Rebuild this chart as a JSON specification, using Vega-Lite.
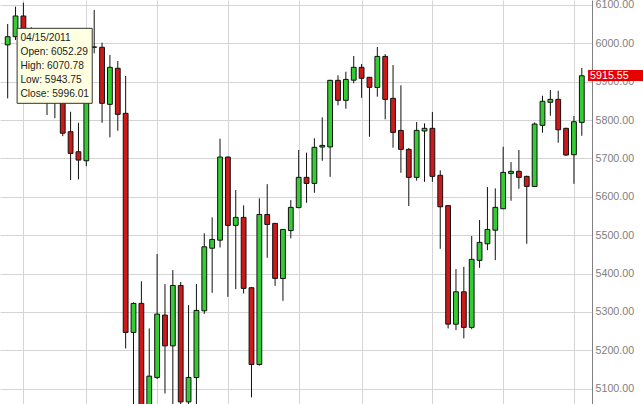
{
  "$schema": "https://vega.github.io/schema/vega-lite/v6.json",
  "width": 592,
  "height": 404,
  "autosize": {"type": "none"},
  "padding": {"left": 0, "top": 0, "right": 51, "bottom": 0},
  "background": "white",
  "config": {"view": {"stroke": null}, "font": "Liberation Sans"},
  "datasets": {
    "candles": [
      {"i": 0, "date": "2011-04-18", "open": 5996.0, "high": 6050.5, "low": 5856.7, "close": 6017.3},
      {"i": 1, "date": "2011-04-25", "open": 6017.3, "high": 6095.6, "low": 6008.7, "close": 6071.3},
      {"i": 2, "date": "2011-05-02", "open": 6071.3, "high": 6106.0, "low": 5955.0, "close": 5977.0},
      {"i": 3, "date": "2011-05-09", "open": 5977.0, "high": 6042.0, "low": 5890.0, "close": 5926.0},
      {"i": 4, "date": "2011-05-16", "open": 5926.0, "high": 5990.0, "low": 5880.0, "close": 5948.0},
      {"i": 5, "date": "2011-05-23", "open": 5948.0, "high": 5990.0, "low": 5813.0, "close": 5939.0},
      {"i": 6, "date": "2011-05-30", "open": 5939.0, "high": 5980.0, "low": 5805.0, "close": 5855.0},
      {"i": 7, "date": "2011-06-06", "open": 5855.0, "high": 5870.0, "low": 5758.0, "close": 5765.8},
      {"i": 8, "date": "2011-06-13", "open": 5769.7, "high": 5821.8, "low": 5643.7, "close": 5713.2},
      {"i": 9, "date": "2011-06-20", "open": 5717.5, "high": 5793.0, "low": 5645.5, "close": 5695.8},
      {"i": 10, "date": "2011-06-27", "open": 5694.0, "high": 5995.0, "low": 5680.0, "close": 5989.8},
      {"i": 11, "date": "2011-07-04", "open": 5989.8, "high": 6087.0, "low": 5974.0, "close": 5990.6},
      {"i": 12, "date": "2011-07-11", "open": 5989.7, "high": 6001.7, "low": 5793.1, "close": 5843.7},
      {"i": 13, "date": "2011-07-18", "open": 5841.0, "high": 5969.6, "low": 5755.0, "close": 5937.5},
      {"i": 14, "date": "2011-07-25", "open": 5935.0, "high": 5954.0, "low": 5772.2, "close": 5815.0},
      {"i": 15, "date": "2011-08-01", "open": 5817.6, "high": 5914.9, "low": 5204.8, "close": 5246.5},
      {"i": 16, "date": "2011-08-08", "open": 5246.5, "high": 5325.0, "low": 4800.0, "close": 5322.2},
      {"i": 17, "date": "2011-08-15", "open": 5322.2, "high": 5380.0, "low": 4950.0, "close": 5041.0},
      {"i": 18, "date": "2011-08-22", "open": 5041.0, "high": 5257.0, "low": 4980.0, "close": 5132.6},
      {"i": 19, "date": "2011-08-29", "open": 5129.2, "high": 5450.7, "low": 5125.0, "close": 5294.3},
      {"i": 20, "date": "2011-09-05", "open": 5291.7, "high": 5372.5, "low": 5087.5, "close": 5211.6},
      {"i": 21, "date": "2011-09-12", "open": 5211.6, "high": 5409.0, "low": 5055.0, "close": 5369.0},
      {"i": 22, "date": "2011-09-19", "open": 5369.0, "high": 5378.0, "low": 5000.0, "close": 5065.6},
      {"i": 23, "date": "2011-09-26", "open": 5065.6, "high": 5317.7, "low": 4950.0, "close": 5129.2},
      {"i": 24, "date": "2011-10-03", "open": 5129.0, "high": 5372.5, "low": 4940.0, "close": 5304.0},
      {"i": 25, "date": "2011-10-10", "open": 5303.0, "high": 5505.0, "low": 5295.0, "close": 5469.7},
      {"i": 26, "date": "2011-10-17", "open": 5466.0, "high": 5546.4, "low": 5349.8, "close": 5489.0},
      {"i": 27, "date": "2011-10-24", "open": 5487.0, "high": 5751.4, "low": 5468.0, "close": 5703.7},
      {"i": 28, "date": "2011-10-31", "open": 5703.7, "high": 5705.0, "low": 5339.4, "close": 5525.5},
      {"i": 29, "date": "2011-11-07", "open": 5525.5, "high": 5617.6, "low": 5359.5, "close": 5546.4},
      {"i": 30, "date": "2011-11-14", "open": 5546.4, "high": 5577.7, "low": 5348.0, "close": 5361.3},
      {"i": 31, "date": "2011-11-21", "open": 5363.0, "high": 5365.0, "low": 5077.0, "close": 5163.0},
      {"i": 32, "date": "2011-11-28", "open": 5163.0, "high": 5596.0, "low": 5160.0, "close": 5554.0},
      {"i": 33, "date": "2011-12-05", "open": 5554.0, "high": 5633.0, "low": 5441.0, "close": 5528.0},
      {"i": 34, "date": "2011-12-12", "open": 5530.8, "high": 5531.0, "low": 5368.0, "close": 5387.3},
      {"i": 35, "date": "2011-12-19", "open": 5387.0, "high": 5516.0, "low": 5329.0, "close": 5515.0},
      {"i": 36, "date": "2011-12-26", "open": 5512.0, "high": 5591.5, "low": 5491.7, "close": 5572.5},
      {"i": 37, "date": "2012-01-02", "open": 5572.0, "high": 5722.0, "low": 5570.0, "close": 5650.7},
      {"i": 38, "date": "2012-01-09", "open": 5650.7, "high": 5715.0, "low": 5584.5, "close": 5635.0},
      {"i": 39, "date": "2012-01-16", "open": 5635.0, "high": 5752.4, "low": 5610.6, "close": 5729.0},
      {"i": 40, "date": "2012-01-23", "open": 5729.7, "high": 5807.0, "low": 5694.0, "close": 5734.0},
      {"i": 41, "date": "2012-01-30", "open": 5730.0, "high": 5905.0, "low": 5652.0, "close": 5903.6},
      {"i": 42, "date": "2012-02-06", "open": 5903.6, "high": 5916.6, "low": 5838.5, "close": 5851.5},
      {"i": 43, "date": "2012-02-13", "open": 5851.5, "high": 5926.0, "low": 5829.6, "close": 5906.0},
      {"i": 44, "date": "2012-02-20", "open": 5904.0, "high": 5967.0, "low": 5896.0, "close": 5937.5},
      {"i": 45, "date": "2012-02-27", "open": 5937.5, "high": 5946.0, "low": 5858.0, "close": 5909.0},
      {"i": 46, "date": "2012-03-05", "open": 5911.5, "high": 5912.0, "low": 5756.6, "close": 5885.4},
      {"i": 47, "date": "2012-03-12", "open": 5885.0, "high": 5990.5, "low": 5861.0, "close": 5966.0},
      {"i": 48, "date": "2012-03-19", "open": 5966.0, "high": 5972.0, "low": 5802.0, "close": 5854.0},
      {"i": 49, "date": "2012-03-26", "open": 5856.7, "high": 5943.5, "low": 5728.0, "close": 5768.0},
      {"i": 50, "date": "2012-04-02", "open": 5773.0, "high": 5890.6, "low": 5662.7, "close": 5723.7},
      {"i": 51, "date": "2012-04-09", "open": 5723.7, "high": 5727.0, "low": 5576.0, "close": 5650.7},
      {"i": 52, "date": "2012-04-16", "open": 5650.7, "high": 5795.0, "low": 5642.0, "close": 5773.3},
      {"i": 53, "date": "2012-04-23", "open": 5771.5, "high": 5791.5, "low": 5639.0, "close": 5778.5},
      {"i": 54, "date": "2012-04-30", "open": 5778.5, "high": 5821.0, "low": 5639.0, "close": 5653.3},
      {"i": 55, "date": "2012-05-07", "open": 5656.0, "high": 5669.0, "low": 5464.5, "close": 5574.0},
      {"i": 56, "date": "2012-05-14", "open": 5577.0, "high": 5578.0, "low": 5257.0, "close": 5268.2},
      {"i": 57, "date": "2012-05-21", "open": 5268.0, "high": 5411.6, "low": 5252.5, "close": 5352.4},
      {"i": 58, "date": "2012-05-28", "open": 5352.4, "high": 5417.6, "low": 5231.0, "close": 5259.6},
      {"i": 59, "date": "2012-06-04", "open": 5259.6, "high": 5497.7, "low": 5255.0, "close": 5437.0},
      {"i": 60, "date": "2012-06-11", "open": 5434.3, "high": 5539.4, "low": 5415.0, "close": 5481.2},
      {"i": 61, "date": "2012-06-18", "open": 5477.6, "high": 5625.4, "low": 5461.0, "close": 5515.0},
      {"i": 62, "date": "2012-06-25", "open": 5513.0, "high": 5622.0, "low": 5435.0, "close": 5572.5},
      {"i": 63, "date": "2012-07-02", "open": 5569.0, "high": 5730.5, "low": 5568.0, "close": 5663.7},
      {"i": 64, "date": "2012-07-09", "open": 5661.0, "high": 5690.6, "low": 5589.7, "close": 5666.4},
      {"i": 65, "date": "2012-07-16", "open": 5666.4, "high": 5722.0, "low": 5621.0, "close": 5650.7},
      {"i": 66, "date": "2012-07-23", "open": 5653.3, "high": 5655.0, "low": 5477.6, "close": 5627.2},
      {"i": 67, "date": "2012-07-30", "open": 5627.0, "high": 5794.0, "low": 5626.0, "close": 5789.7},
      {"i": 68, "date": "2012-08-06", "open": 5786.3, "high": 5863.5, "low": 5767.0, "close": 5849.0},
      {"i": 69, "date": "2012-08-13", "open": 5846.3, "high": 5878.4, "low": 5811.3, "close": 5854.0},
      {"i": 70, "date": "2012-08-20", "open": 5854.0, "high": 5876.5, "low": 5741.0, "close": 5774.8},
      {"i": 71, "date": "2012-08-27", "open": 5778.5, "high": 5780.0, "low": 5707.0, "close": 5708.9},
      {"i": 72, "date": "2012-09-03", "open": 5709.7, "high": 5810.6, "low": 5634.0, "close": 5795.7},
      {"i": 73, "date": "2012-09-10", "open": 5794.0, "high": 5935.7, "low": 5759.2, "close": 5915.55}
    ],
    "tip": [{"date": "04/15/2011", "open": 6052.29, "high": 6070.78, "low": 5943.75, "close": 5996.01}],
    "last": [{"close": 5915.55}]
  },
  "layer": [
    {
      "data": {"name": "candles"},
      "mark": {"type": "rule", "color": "#111111", "strokeWidth": 1, "clip": true},
      "encoding": {
        "x": {
          "field": "i", "type": "quantitative",
          "scale": {"domain": [-0.34, 73.66], "nice": false, "zero": false},
          "axis": {"values": [2, 6, 10, 15, 19, 24, 28, 32, 37, 41, 45, 50, 54, 58, 63, 67, 72], "labels": false, "ticks": false, "domain": false, "title": null, "grid": true, "gridColor": "#d4d4d4", "gridWidth": 1}
        },
        "y": {
          "field": "low", "type": "quantitative",
          "scale": {"domain": [5060, 6113], "nice": false, "zero": false},
          "axis": {"orient": "right", "values": [5100, 5150, 5200, 5250, 5300, 5350, 5400, 5450, 5500, 5550, 5600, 5650, 5700, 5750, 5800, 5850, 5900, 5950, 6000, 6050, 6100], "format": ".2f", "title": null, "ticks": false, "labelPadding": 3, "domainColor": "#808080", "labelColor": "#808080", "labelFontSize": 10.7, "labelFont": "Liberation Sans", "grid": true, "gridColor": "#d4d4d4", "gridWidth": 1}
        },
        "y2": {"field": "high"}
      }
    },
    {
      "data": {"name": "candles"},
      "mark": {"type": "bar", "width": 4.8, "stroke": "#111111", "strokeWidth": 1, "clip": true},
      "encoding": {
        "x": {"field": "i", "type": "quantitative"},
        "y": {"field": "open", "type": "quantitative"},
        "y2": {"field": "close"},
        "color": {"condition": {"test": "datum.close >= datum.open", "value": "#33cc33"}, "value": "#cc1a1a"}
      }
    },
    {
      "data": {"name": "tip"},
      "mark": {"type": "rect", "fill": "#ffffe1", "stroke": "#333333", "strokeWidth": 1},
      "encoding": {
        "x": {"datum": 1.2, "type": "quantitative"},
        "x2": {"datum": 10.75},
        "y": {"datum": 6039.2, "type": "quantitative"},
        "y2": {"datum": 5843.7}
      }
    },
    {
      "data": {"name": "tip"},
      "mark": {"type": "text", "align": "left", "baseline": "middle", "lineHeight": 14, "fontSize": 10.2, "font": "Liberation Sans", "color": "#222222",
        "text": ["04/15/2011", "Open: 6052.29", "High: 6070.78", "Low: 5943.75", "Close: 5996.01"]},
      "encoding": {
        "x": {"datum": 1.625, "type": "quantitative"},
        "y": {"datum": 6013.2, "type": "quantitative"}
      }
    },
    {
      "data": {"name": "last"},
      "mark": {"type": "rect", "fill": "#e60000", "clip": false},
      "encoding": {
        "x": {"datum": 73.79, "type": "quantitative"},
        "x2": {"datum": 81},
        "y": {"datum": 5930.5, "type": "quantitative"},
        "y2": {"datum": 5901.8}
      }
    },
    {
      "data": {"name": "last"},
      "mark": {"type": "text", "align": "left", "baseline": "middle", "fontSize": 10.7, "font": "Liberation Sans", "color": "white"},
      "encoding": {
        "x": {"datum": 74.05, "type": "quantitative"},
        "y": {"field": "close", "type": "quantitative"},
        "text": {"field": "close", "type": "quantitative", "format": ".2f"}
      }
    }
  ]
}
